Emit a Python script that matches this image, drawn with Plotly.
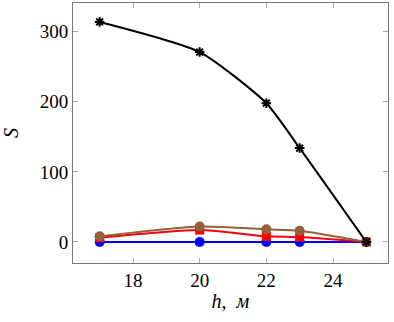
import plotly.graph_objects as go

h = [17, 20, 22, 23, 25]
s_black = [314, 271, 198, 134, 0]
s_brown = [8, 22, 18, 16, 0]
s_red = [6, 17, 8, 7, 0]
s_blue = [0, 0, 0, 0, 0]

fig = go.Figure()
fig.add_trace(go.Scatter(x=h, y=s_blue, mode="lines+markers",
                         line=dict(color="#0000ff", width=2, shape="spline", smoothing=0.6),
                         marker=dict(symbol="circle", size=10, color="#0000ff")))
fig.add_trace(go.Scatter(x=h, y=s_red, mode="lines+markers",
                         line=dict(color="#ff0000", width=2, shape="spline", smoothing=0.6),
                         marker=dict(symbol="square", size=9, color="#ff0000")))
fig.add_trace(go.Scatter(x=h, y=s_brown, mode="lines+markers",
                         line=dict(color="#93603a", width=2, shape="spline", smoothing=0.6),
                         marker=dict(symbol="circle", size=10, color="#93603a")))
fig.add_trace(go.Scatter(x=h, y=s_black, mode="lines+markers",
                         line=dict(color="#000000", width=2, shape="spline", smoothing=0.6),
                         marker=dict(symbol="asterisk-open", size=8, color="#000000",
                                     line=dict(color="#000000", width=2))))

font = "'Liberation Serif', 'DejaVu Serif', serif"
fig.update_layout(
    width=394, height=322,
    margin=dict(l=73, r=6, t=3, b=59),
    plot_bgcolor="white", paper_bgcolor="white",
    showlegend=False,
    font=dict(family=font, size=19, color="black"),
    xaxis=dict(range=[16.2, 25.65], tickvals=[18, 20, 22, 24], ticks="inside", ticklen=5,
               tickcolor="#aaa", showline=True, linecolor="#777", linewidth=1, mirror="allticks",
               showgrid=False, zeroline=False,
               title=dict(text="<i>h,  м</i>", font=dict(family=font, size=20), standoff=4)),
    yaxis=dict(range=[-30, 341], tickvals=[0, 100, 200, 300], ticks="inside", ticklen=5,
               tickcolor="#aaa", showline=True, linecolor="#777", linewidth=1, mirror="allticks",
               showgrid=False, zeroline=False,
               title=dict(text="<i>S</i>", font=dict(family=font, size=20), standoff=16)),
)
fig.write_html("out.html", config={"displayModeBar": False},
               post_script="document.body.style.margin='0';document.body.style.padding='0';")
